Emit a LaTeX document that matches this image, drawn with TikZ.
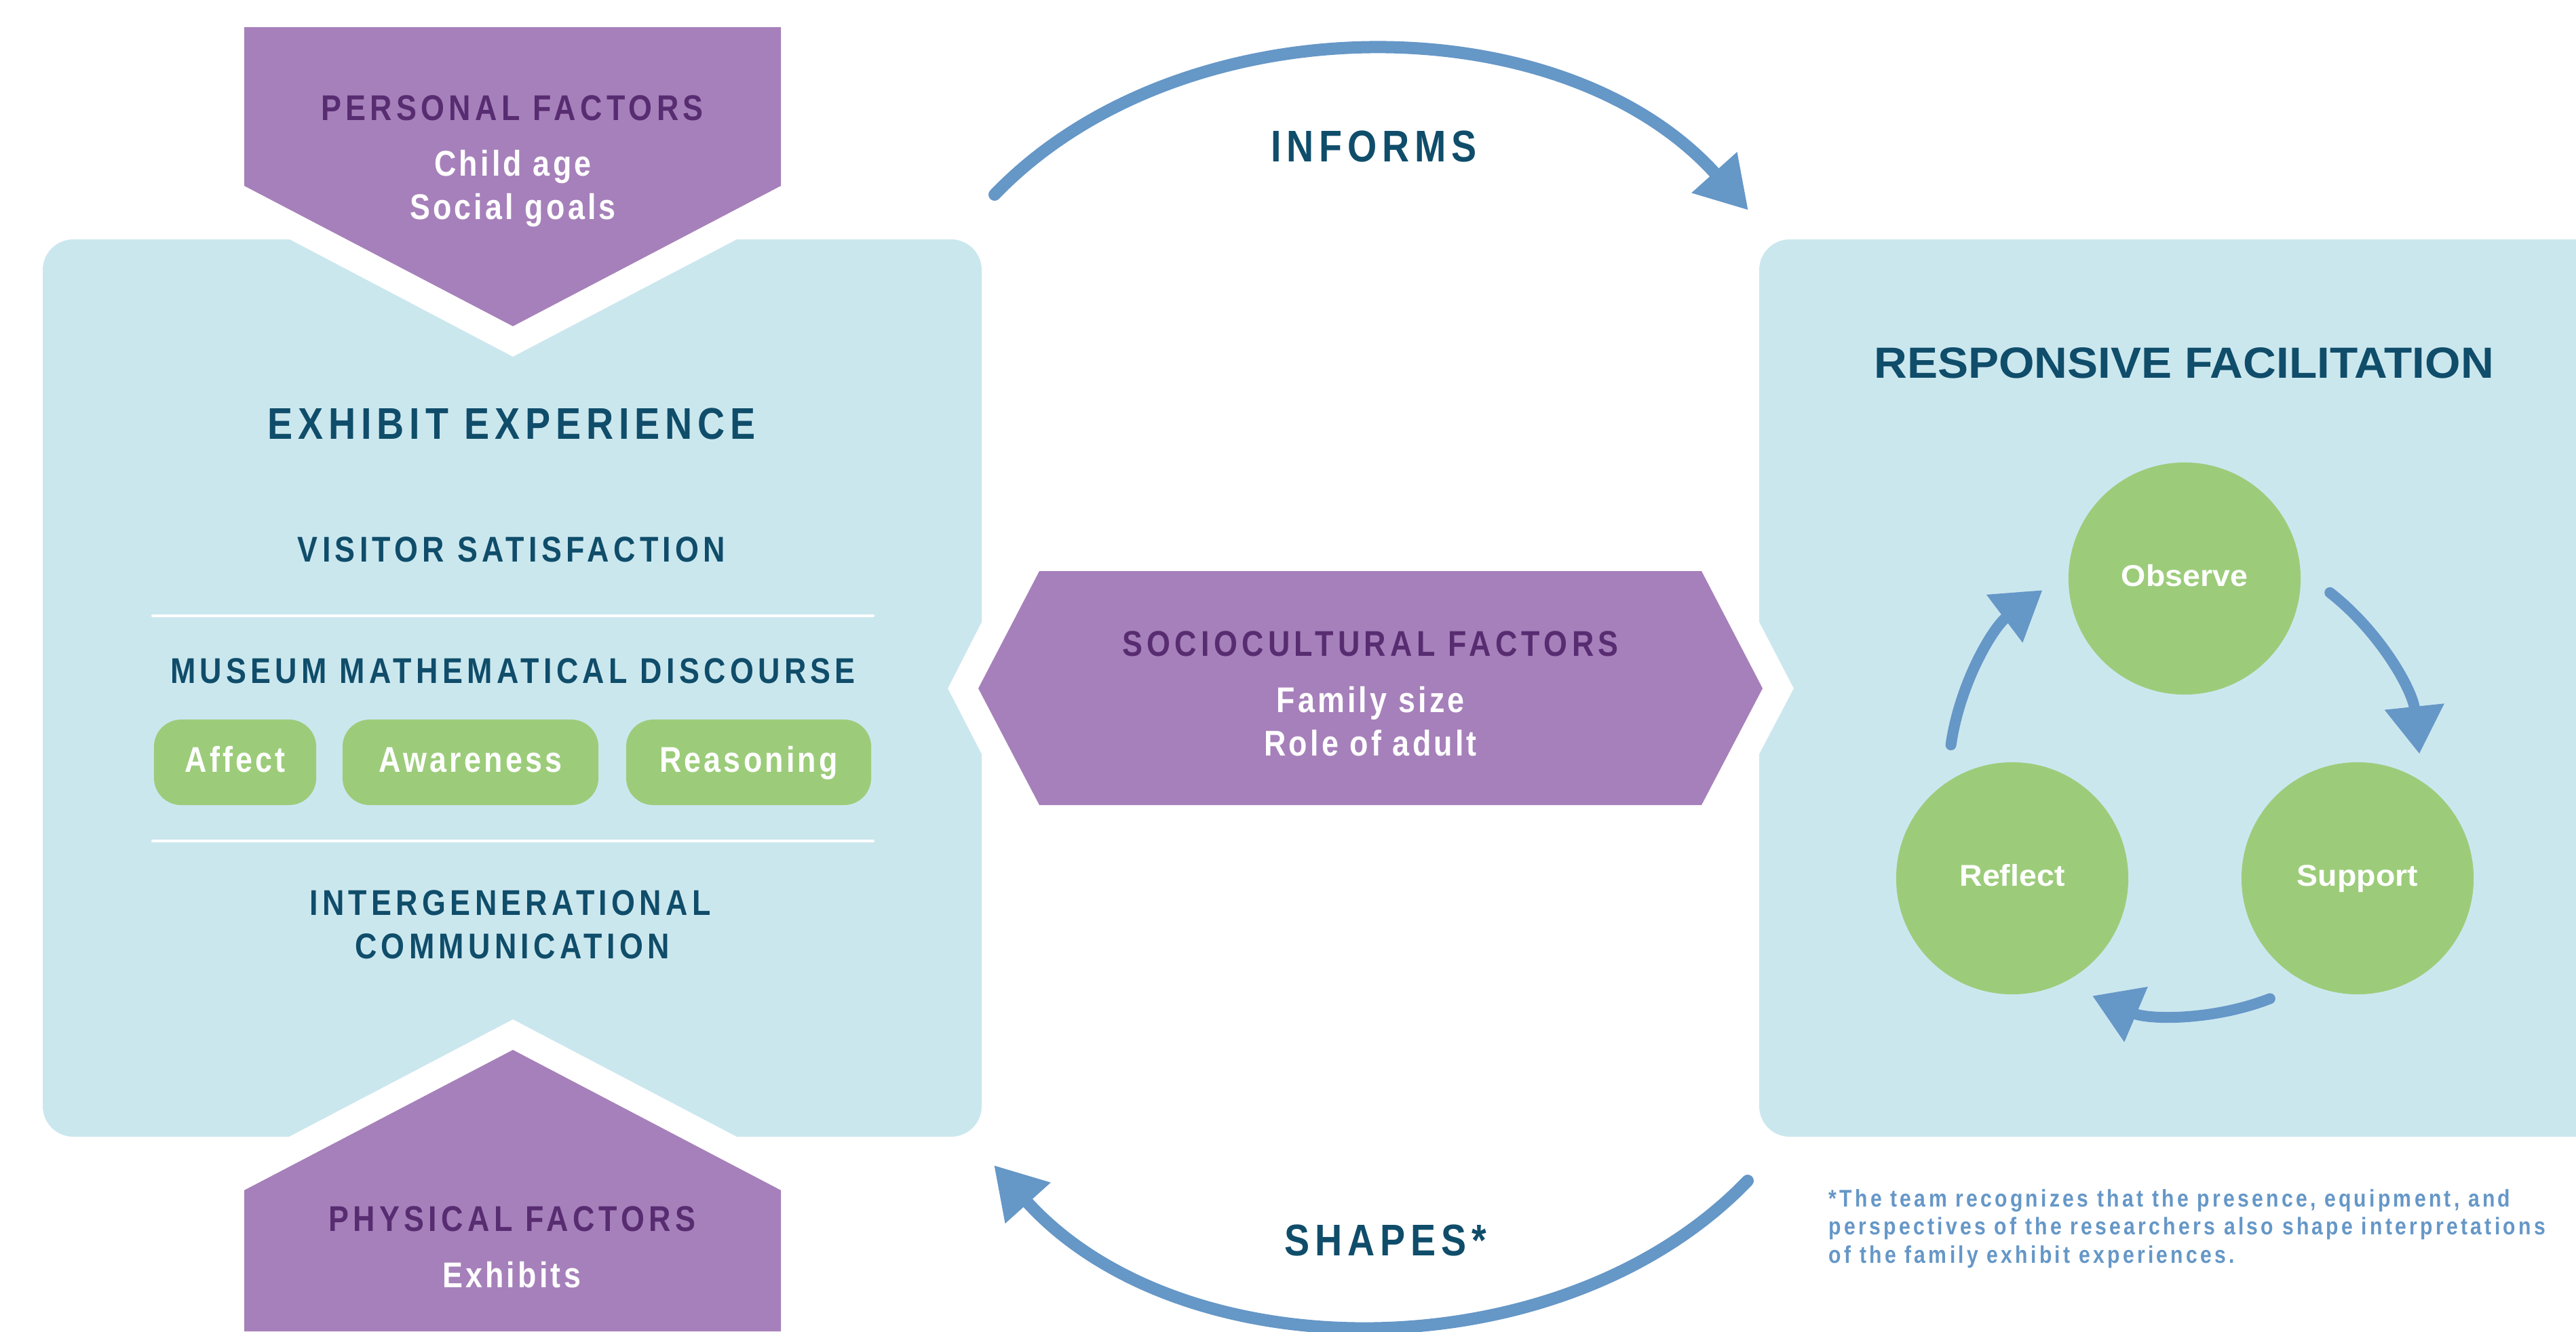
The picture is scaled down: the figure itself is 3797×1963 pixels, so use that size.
\documentclass[tikz,border=0pt]{standalone}
\usepackage{fontspec}
\setmainfont{Liberation Sans}
\newfontfamily\cf{Liberation Sans}[FakeStretch=0.85,LetterSpace=12]
\newfontfamily\cfl{Liberation Sans}[FakeStretch=0.85,LetterSpace=8]
\newfontfamily\wf{Liberation Sans}[FakeStretch=1.05]
\usetikzlibrary{arrows.meta}
\definecolor{lblue}{HTML}{CBE7EE}
\definecolor{purp}{HTML}{A680BA}
\definecolor{dpurp}{HTML}{582C71}
\definecolor{tealtx}{HTML}{0F4D6A}
\definecolor{grn}{HTML}{9CCC7A}
\definecolor{arrblue}{HTML}{6597C7}
\tikzset{
  hd/.style={text=tealtx,font=\cf\bfseries\fontsize{15}{18}\selectfont,anchor=base,inner sep=0pt},
  phd/.style={text=dpurp,font=\cf\bfseries\fontsize{15}{18}\selectfont,anchor=base,inner sep=0pt},
  big/.style={text=tealtx,font=\cf\bfseries\fontsize{18.6}{22}\selectfont,anchor=base,inner sep=0pt},
  sub/.style={text=white,font=\cfl\bfseries\fontsize{15}{18}\selectfont,anchor=base,inner sep=0pt},
  wtitle/.style={text=tealtx,font=\wf\bfseries\fontsize{18.3}{22}\selectfont,anchor=base,inner sep=0pt},
  fn/.style={text=arrblue,font=\cf\bfseries\fontsize{10.1}{12}\selectfont,anchor=base west,inner sep=0pt},
  pill/.style={fill=grn,rounded corners=0.4cm,text=white,font=\cfl\bfseries\fontsize{15}{18}\selectfont,
    minimum height=1.26cm,inner sep=0pt,text height=0.40cm,text depth=0.12cm},
  stage/.style={circle,fill=grn,minimum size=3.42cm,inner sep=0pt,text=white,
    font=\wf\bfseries\fontsize{12.6}{15}\selectfont,text height=0.33cm,text depth=0.10cm},
  bigarrow/.style={draw=arrblue,line width=0.18cm,line cap=round,-{Triangle[length=0.75cm,width=0.85cm]}},
  cycarrow/.style={draw=arrblue,line width=0.16cm,line cap=round,-{Triangle[length=0.70cm,width=0.84cm]}},
  sepline/.style={draw=white,line width=0.04cm,line cap=round}
}
\begin{document}
\begin{tikzpicture}[x=0.01cm,y=-0.01cm]
\useasboundingbox (0,0) rectangle (3797,1963);
\fill[white] (0,0) rectangle (3797,1963);

% left box: exhibit experience
\fill[lblue] (427,353) -- (756,526) -- (1086,353) -- (1402,353)
  arc[start angle=-90,end angle=0,radius=45] -- (1447,917) -- (1397,1015) -- (1447,1112) -- (1447,1631)
  arc[start angle=0,end angle=90,radius=45] -- (1086,1676) -- (756,1503) -- (426,1676) -- (108,1676)
  arc[start angle=90,end angle=180,radius=45] -- (63,398)
  arc[start angle=180,end angle=270,radius=45] -- cycle;

% right box: responsive facilitation
\fill[lblue] (2638,353) -- (3797,353) -- (3797,1676) -- (2638,1676)
  arc[start angle=90,end angle=180,radius=45] -- (2593,1112) -- (2644,1015) -- (2593,917) -- (2593,398)
  arc[start angle=180,end angle=270,radius=45] -- cycle;

% purple factor shapes
\fill[purp] (360,40) -- (1151,40) -- (1151,274) -- (756,481) -- (360,274) -- cycle;
\fill[purp] (360,1963) -- (360,1755) -- (756,1548) -- (1151,1755) -- (1151,1963) -- cycle;
\fill[purp] (1532,842) -- (2508,842) -- (2598,1015) -- (2508,1187) -- (1532,1187) -- (1442,1015) -- cycle;

% personal factors
\node[phd] (pf) at (755,177) {PERSONAL FACTORS};
\node[sub] (pf1) at (756,259) {Child age};
\node[sub] (pf2) at (756,323) {Social goals};

% physical factors
\node[phd] (phf) at (755,1815) {PHYSICAL FACTORS};
\node[sub] (phf1) at (754,1898) {Exhibits};

% sociocultural factors
\node[phd] (scf) at (2020,967) {SOCIOCULTURAL FACTORS};
\node[sub] (scf1) at (2020,1050) {Family size};
\node[sub] (scf2) at (2020,1114) {Role of adult};

% exhibit experience content
\node[big] (ee) at (754,647) {EXHIBIT EXPERIENCE};
\node[hd] (vs) at (754,828) {VISITOR SATISFACTION};
\coordinate (l1a) at (225,908); \coordinate (l1b) at (1287,908);
\draw[sepline] (l1a) -- (l1b);
\node[hd] (mmd) at (756,1007) {MUSEUM MATHEMATICAL DISCOURSE};
\node[pill,minimum width=2.39cm] (affect) at (346.5,1124) {Affect};
\node[pill,minimum width=3.77cm] (aware) at (693.5,1124) {Awareness};
\node[pill,minimum width=3.61cm] (reason) at (1103.5,1124) {Reasoning};
\coordinate (l2a) at (225,1240); \coordinate (l2b) at (1287,1240);
\draw[sepline] (l2a) -- (l2b);
\node[hd] (ig1) at (752,1349) {INTERGENERATIONAL};
\node[hd] (ig2) at (755,1413) {COMMUNICATION};

% responsive facilitation
\node[wtitle] (rf) at (3219,557) {RESPONSIVE FACILITATION};
\node[stage] (obs) at (3220,853) {Observe};
\node[stage] (sup) at (3475,1295) {Support};
\node[stage] (ref) at (2966,1295) {Reflect};
\coordinate (cyc) at (3220,1148);
\draw[cycarrow] ([shift={(-52:348)}]cyc) arc[start angle=-52,end angle=-6,radius=348];
\draw[cycarrow] ([shift={(68.8:348)}]cyc) arc[start angle=68.8,end angle=113,radius=348];
\draw[cycarrow] ([shift={(188.2:348)}]cyc) arc[start angle=188.2,end angle=233,radius=348];

% informs / shapes arrows
\coordinate (inS) at (1466,287); \coordinate (inE) at (2577,310);
\draw[bigarrow] (inS) .. controls (1740,2) and (2300,2) .. (inE);
\node[big] (informs) at (2025,238) {INFORMS};
\coordinate (shS) at (2576,1741); \coordinate (shE) at (1465,1718);
\draw[bigarrow] (shS) .. controls (2302,2026) and (1742,2026) .. (shE);
\node[big] (shapes) at (2042,1851) {SHAPES*};

% footnote
\node[fn] (fn1) at (2695,1779) {*The team recognizes that the presence, equipment, and};
\node[fn] (fn2) at (2695,1820) {perspectives of the researchers also shape interpretations};
\node[fn] (fn3) at (2695,1862) {of the family exhibit experiences.};
\end{tikzpicture}
\end{document}
